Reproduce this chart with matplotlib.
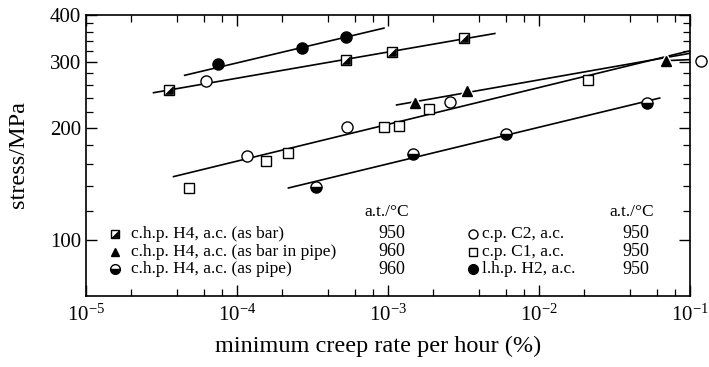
import numpy as np
import matplotlib
matplotlib.use("Agg")
import matplotlib.pyplot as plt
from matplotlib.ticker import LogLocator, FixedLocator, FixedFormatter, NullFormatter

plt.rcParams['font.family'] = ['Liberation Serif', 'DejaVu Serif']
plt.rcParams['mathtext.fontset'] = 'stix'

# --- data (rate in %/h, stress in MPa) ---
# l.h.p. H2, a.c. (filled circles)
lhp_x = [7.5e-5, 2.7e-4, 5.25e-4]
lhp_y = [295, 326, 349]
lhp_fit_x = [4.5e-5, 9.4e-4]
lhp_fit_y = [276, 369]

# c.h.p. H4, a.c. (as bar) - half filled squares
bar_x = [3.55e-5, 5.25e-4, 1.07e-3, 3.18e-3]
bar_y = [252, 303, 319, 348]
bar_fit_x = [2.8e-5, 5.1e-3]
bar_fit_y = [248, 357]

# c.h.p. H4, a.c. (as bar in pipe) - triangles
bip_x = [1.52e-3, 3.35e-3, 6.93e-2]
bip_y = [233, 250, 302]
bip_fit_x = [1.14e-3, 0.1]
bip_fit_y = [230, 316]
bip_tail_x = [6.93e-2, 0.1]
bip_tail_y = [302, 304]

# c.h.p. H4, a.c. (as pipe) - bottom half filled circles
pipe_x = [3.32e-4, 1.47e-3, 6.04e-3, 5.16e-2]
pipe_y = [139, 170, 192, 233]
pipe_fit_x = [2.19e-4, 6.3e-2]
pipe_fit_y = [138, 240]

# c.p. C2, a.c. (open circles)
c2_x = [6.2e-5, 1.17e-4, 5.37e-4, 2.58e-3, 0.118]
c2_y = [267, 168, 201, 234, 302]

# c.p. C1, a.c. (open squares)
c1_x = [4.81e-5, 1.55e-4, 2.17e-4, 9.44e-4, 1.18e-3, 1.86e-3, 2.12e-2]
c1_y = [138, 163, 171, 201, 202, 225, 268]
c_fit_x = [3.8e-5, 0.1]
c_fit_y = [148, 321]

left_names = ["c.h.p. H4, a.c. (as bar)", "c.h.p. H4, a.c. (as bar in pipe)",
              "c.h.p. H4, a.c. (as pipe)"]
left_temps = ["950", "960", "960"]
right_names = ["c.p. C2, a.c.", "c.p. C1, a.c.", "l.h.p. H2, a.c."]
right_temps = ["950", "950", "950"]

fig = plt.figure(figsize=(7.09, 3.67), dpi=100)
ax = fig.add_axes([86 / 709, 71 / 367, 604 / 709, 281 / 367])
ax.set_xscale('log')
ax.set_yscale('log')
ax.set_xlim(1e-5, 1e-1)
ax.set_ylim(71, 400)

lw = 1.2
ax.plot(lhp_fit_x, lhp_fit_y, color='k', lw=lw)
ax.plot(bar_fit_x, bar_fit_y, color='k', lw=lw)
ax.plot(bip_fit_x, bip_fit_y, color='k', lw=lw)
ax.plot(bip_tail_x, bip_tail_y, color='k', lw=lw)
ax.plot(pipe_fit_x, pipe_fit_y, color='k', lw=lw)
ax.plot(c_fit_x, c_fit_y, color='k', lw=lw)

# markers
tri_corner = [(-1, -1), (1, -1), (1, 1), (-1, -1)]


def half_square(x, y, ms, trans=None, **kw):
    extra = {} if trans is None else {'transform': trans}
    ax.plot(x, y, ls='none', marker='s', ms=ms, mfc='white', mec='k', mew=1.0,
            zorder=4, **extra, **kw)
    ax.plot(x, y, ls='none', marker=tri_corner, ms=ms * 0.8, mfc='k', mec='k',
            mew=0.5, zorder=5, **extra, **kw)


def pipe_marker(x, y, ms, trans=None, **kw):
    extra = {} if trans is None else {'transform': trans}
    ax.plot(x, y, ls='none', marker='o', ms=ms, fillstyle='bottom',
            markerfacecolor='k', markerfacecoloralt='white', mec='k', mew=1.0,
            zorder=4, **extra, **kw)


ax.plot(lhp_x, lhp_y, ls='none', marker='o', ms=8, color='k', zorder=4)
half_square(bar_x, bar_y, 7)
ax.plot(bip_x, bip_y, ls='none', marker='^', ms=11, color='white', zorder=3)
ax.plot(bip_x, bip_y, ls='none', marker='^', ms=7, color='k', zorder=4)
pipe_marker(pipe_x, pipe_y, 8)
ax.plot(c2_x, c2_y, ls='none', marker='o', ms=8, mfc='white', mec='k', mew=1.0,
        zorder=4, clip_on=False)
ax.plot(c1_x, c1_y, ls='none', marker='s', ms=6.5, mfc='white', mec='k', mew=1.0,
        zorder=4)

# axes styling
ax.xaxis.set_major_locator(LogLocator(base=10, numticks=10))
ax.xaxis.set_minor_locator(LogLocator(base=10, subs=(2, 4, 6, 8), numticks=10))
ax.xaxis.set_minor_formatter(NullFormatter())
ax.yaxis.set_major_locator(FixedLocator([100, 200, 300, 400]))
ax.yaxis.set_minor_locator(FixedLocator([v for v in range(120, 400, 20)
                                         if v not in (200, 300)]))
ax.yaxis.set_major_formatter(FixedFormatter(['100', '200', '300', '400']))
ax.yaxis.set_minor_formatter(NullFormatter())
ax.tick_params(which='both', direction='in', top=True, right=True, labelsize=15)
ax.tick_params(which='major', length=8, width=1.0)
ax.tick_params(which='minor', length=5, width=0.9)
ax.tick_params(axis='x', pad=6)
for s in ax.spines.values():
    s.set_linewidth(1.2)

# legend (drawn by hand, two columns with temperatures)
tr = ax.transAxes
rows = [0.221, 0.157, 0.096]
fs = 12.5
ax.text(0.498, 0.299, "a.t./°C", transform=tr, ha='center', va='center', fontsize=fs)
ax.text(0.904, 0.299, "a.t./°C", transform=tr, ha='center', va='center', fontsize=fs)
half_square([0.048], [rows[0]], 6, trans=tr)
ax.plot([0.048], [rows[1]], ls='none', marker='^', ms=6, color='k', transform=tr)
pipe_marker([0.048], [rows[2]], 7, trans=tr)
ax.plot([0.641], [rows[0]], ls='none', marker='o', ms=6.5, mfc='white', mec='k',
        transform=tr)
ax.plot([0.641], [rows[1]], ls='none', marker='s', ms=5.5, mfc='white', mec='k',
        transform=tr)
ax.plot([0.641], [rows[2]], ls='none', marker='o', ms=7, color='k', transform=tr)
for yy, name, t in zip(rows, left_names, left_temps):
    ax.text(0.0745, yy, name, transform=tr, ha='left', va='center', fontsize=fs)
    ax.text(0.507, yy, t, transform=tr, ha='center', va='center', fontsize=fs + 0.5)
for yy, name, t in zip(rows, right_names, right_temps):
    ax.text(0.656, yy, name, transform=tr, ha='left', va='center', fontsize=fs)
    ax.text(0.911, yy, t, transform=tr, ha='center', va='center', fontsize=fs + 0.5)

fig.text(0.026, 0.578, "stress/MPa", rotation=90, ha='center', va='center',
         fontsize=17.5)
fig.text(0.533, 0.057, "minimum creep rate per hour (%)", ha='center',
         va='center', fontsize=17.5)

fig.savefig("out.png", dpi=100)
